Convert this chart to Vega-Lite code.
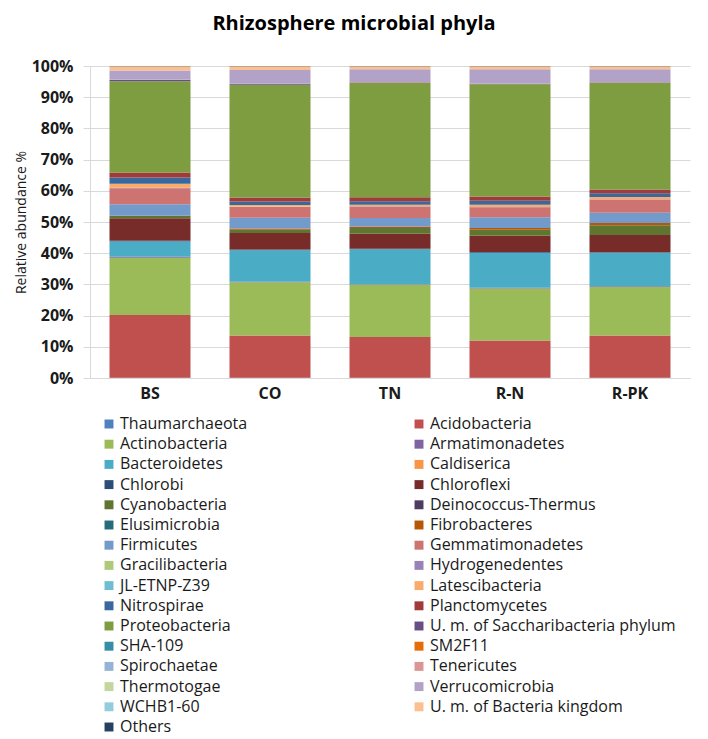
{
  "$schema": "https://vega.github.io/schema/vega-lite/v6.json",
  "width": 600,
  "height": 312,
  "autosize": {"type": "none"},
  "padding": {"left": 90, "top": 66, "right": 18, "bottom": 361},
  "title": {"text": "Rhizosphere microbial phyla", "fontSize": 20, "fontWeight": "bold", "font": "Open Sans", "color": "#000000", "anchor": "middle", "dx": -36, "offset": 24},
  "data": {"values": [
    {"site": "BS", "phylum": "Thaumarchaeota", "abundance": 0.1},
    {"site": "BS", "phylum": "Acidobacteria", "abundance": 20.0},
    {"site": "BS", "phylum": "Actinobacteria", "abundance": 18.3},
    {"site": "BS", "phylum": "Armatimonadetes", "abundance": 0.3},
    {"site": "BS", "phylum": "Bacteroidetes", "abundance": 4.8},
    {"site": "BS", "phylum": "Caldiserica", "abundance": 0.1},
    {"site": "BS", "phylum": "Chlorobi", "abundance": 0.4},
    {"site": "BS", "phylum": "Chloroflexi", "abundance": 7.0},
    {"site": "BS", "phylum": "Cyanobacteria", "abundance": 0.7},
    {"site": "BS", "phylum": "Fibrobacteres", "abundance": 0.1},
    {"site": "BS", "phylum": "Firmicutes", "abundance": 3.7},
    {"site": "BS", "phylum": "Gemmatimonadetes", "abundance": 5.1},
    {"site": "BS", "phylum": "Hydrogenedentes", "abundance": 0.1},
    {"site": "BS", "phylum": "Latescibacteria", "abundance": 1.3},
    {"site": "BS", "phylum": "Nitrospirae", "abundance": 2.0},
    {"site": "BS", "phylum": "Planctomycetes", "abundance": 1.6},
    {"site": "BS", "phylum": "Proteobacteria", "abundance": 29.1},
    {"site": "BS", "phylum": "U. m. of Saccharibacteria phylum", "abundance": 0.4},
    {"site": "BS", "phylum": "Tenericutes", "abundance": 0.1},
    {"site": "BS", "phylum": "Verrucomicrobia", "abundance": 3.0},
    {"site": "BS", "phylum": "U. m. of Bacteria kingdom", "abundance": 1.3},
    {"site": "BS", "phylum": "Others", "abundance": 0.1},

    {"site": "CO", "phylum": "Thaumarchaeota", "abundance": 0.05},
    {"site": "CO", "phylum": "Acidobacteria", "abundance": 13.5},
    {"site": "CO", "phylum": "Actinobacteria", "abundance": 17.0},
    {"site": "CO", "phylum": "Armatimonadetes", "abundance": 0.2},
    {"site": "CO", "phylum": "Bacteroidetes", "abundance": 10.0},
    {"site": "CO", "phylum": "Chlorobi", "abundance": 0.3},
    {"site": "CO", "phylum": "Chloroflexi", "abundance": 5.2},
    {"site": "CO", "phylum": "Cyanobacteria", "abundance": 1.0},
    {"site": "CO", "phylum": "Deinococcus-Thermus", "abundance": 0.1},
    {"site": "CO", "phylum": "Fibrobacteres", "abundance": 0.4},
    {"site": "CO", "phylum": "Firmicutes", "abundance": 3.4},
    {"site": "CO", "phylum": "Gemmatimonadetes", "abundance": 3.5},
    {"site": "CO", "phylum": "Gracilibacteria", "abundance": 0.1},
    {"site": "CO", "phylum": "Latescibacteria", "abundance": 0.5},
    {"site": "CO", "phylum": "Nitrospirae", "abundance": 1.1},
    {"site": "CO", "phylum": "Planctomycetes", "abundance": 1.3},
    {"site": "CO", "phylum": "Proteobacteria", "abundance": 36.0},
    {"site": "CO", "phylum": "U. m. of Saccharibacteria phylum", "abundance": 0.2},
    {"site": "CO", "phylum": "Tenericutes", "abundance": 0.1},
    {"site": "CO", "phylum": "Verrucomicrobia", "abundance": 4.4},
    {"site": "CO", "phylum": "U. m. of Bacteria kingdom", "abundance": 1.2},
    {"site": "CO", "phylum": "Others", "abundance": 0.05},

    {"site": "TN", "phylum": "Thaumarchaeota", "abundance": 0.05},
    {"site": "TN", "phylum": "Acidobacteria", "abundance": 13.1},
    {"site": "TN", "phylum": "Actinobacteria", "abundance": 16.7},
    {"site": "TN", "phylum": "Armatimonadetes", "abundance": 0.2},
    {"site": "TN", "phylum": "Bacteroidetes", "abundance": 11.2},
    {"site": "TN", "phylum": "Chlorobi", "abundance": 0.2},
    {"site": "TN", "phylum": "Chloroflexi", "abundance": 4.8},
    {"site": "TN", "phylum": "Cyanobacteria", "abundance": 1.8},
    {"site": "TN", "phylum": "Fibrobacteres", "abundance": 0.4},
    {"site": "TN", "phylum": "Firmicutes", "abundance": 2.8},
    {"site": "TN", "phylum": "Gemmatimonadetes", "abundance": 3.7},
    {"site": "TN", "phylum": "Hydrogenedentes", "abundance": 0.1},
    {"site": "TN", "phylum": "Latescibacteria", "abundance": 0.5},
    {"site": "TN", "phylum": "Nitrospirae", "abundance": 1.1},
    {"site": "TN", "phylum": "Planctomycetes", "abundance": 1.3},
    {"site": "TN", "phylum": "Proteobacteria", "abundance": 36.6},
    {"site": "TN", "phylum": "U. m. of Saccharibacteria phylum", "abundance": 0.2},
    {"site": "TN", "phylum": "Tenericutes", "abundance": 0.1},
    {"site": "TN", "phylum": "Verrucomicrobia", "abundance": 4.1},
    {"site": "TN", "phylum": "U. m. of Bacteria kingdom", "abundance": 1.0},
    {"site": "TN", "phylum": "Others", "abundance": 0.05},

    {"site": "R-N", "phylum": "Thaumarchaeota", "abundance": 0.05},
    {"site": "R-N", "phylum": "Acidobacteria", "abundance": 11.9},
    {"site": "R-N", "phylum": "Actinobacteria", "abundance": 16.6},
    {"site": "R-N", "phylum": "Armatimonadetes", "abundance": 0.2},
    {"site": "R-N", "phylum": "Bacteroidetes", "abundance": 11.2},
    {"site": "R-N", "phylum": "Chlorobi", "abundance": 0.2},
    {"site": "R-N", "phylum": "Chloroflexi", "abundance": 5.2},
    {"site": "R-N", "phylum": "Cyanobacteria", "abundance": 1.9},
    {"site": "R-N", "phylum": "Fibrobacteres", "abundance": 0.6},
    {"site": "R-N", "phylum": "Firmicutes", "abundance": 3.4},
    {"site": "R-N", "phylum": "Gemmatimonadetes", "abundance": 3.2},
    {"site": "R-N", "phylum": "Hydrogenedentes", "abundance": 0.1},
    {"site": "R-N", "phylum": "Latescibacteria", "abundance": 0.7},
    {"site": "R-N", "phylum": "Nitrospirae", "abundance": 1.3},
    {"site": "R-N", "phylum": "Planctomycetes", "abundance": 1.3},
    {"site": "R-N", "phylum": "Proteobacteria", "abundance": 35.8},
    {"site": "R-N", "phylum": "U. m. of Saccharibacteria phylum", "abundance": 0.2},
    {"site": "R-N", "phylum": "Tenericutes", "abundance": 0.1},
    {"site": "R-N", "phylum": "Verrucomicrobia", "abundance": 4.5},
    {"site": "R-N", "phylum": "U. m. of Bacteria kingdom", "abundance": 1.0},
    {"site": "R-N", "phylum": "Others", "abundance": 0.05},

    {"site": "R-PK", "phylum": "Thaumarchaeota", "abundance": 0.05},
    {"site": "R-PK", "phylum": "Acidobacteria", "abundance": 13.5},
    {"site": "R-PK", "phylum": "Actinobacteria", "abundance": 15.5},
    {"site": "R-PK", "phylum": "Armatimonadetes", "abundance": 0.2},
    {"site": "R-PK", "phylum": "Bacteroidetes", "abundance": 10.7},
    {"site": "R-PK", "phylum": "Chlorobi", "abundance": 0.2},
    {"site": "R-PK", "phylum": "Chloroflexi", "abundance": 5.5},
    {"site": "R-PK", "phylum": "Cyanobacteria", "abundance": 3.1},
    {"site": "R-PK", "phylum": "Fibrobacteres", "abundance": 0.7},
    {"site": "R-PK", "phylum": "Firmicutes", "abundance": 3.3},
    {"site": "R-PK", "phylum": "Gemmatimonadetes", "abundance": 4.2},
    {"site": "R-PK", "phylum": "Hydrogenedentes", "abundance": 0.1},
    {"site": "R-PK", "phylum": "Latescibacteria", "abundance": 0.7},
    {"site": "R-PK", "phylum": "Nitrospirae", "abundance": 1.2},
    {"site": "R-PK", "phylum": "Planctomycetes", "abundance": 1.2},
    {"site": "R-PK", "phylum": "Proteobacteria", "abundance": 34.0},
    {"site": "R-PK", "phylum": "U. m. of Saccharibacteria phylum", "abundance": 0.2},
    {"site": "R-PK", "phylum": "Tenericutes", "abundance": 0.1},
    {"site": "R-PK", "phylum": "Verrucomicrobia", "abundance": 4.1},
    {"site": "R-PK", "phylum": "U. m. of Bacteria kingdom", "abundance": 1.0},
    {"site": "R-PK", "phylum": "Others", "abundance": 0.05}
  ]},
  "transform": [
    {"window": [{"op": "row_number", "as": "stackRank"}], "groupby": ["site"]}
  ],
  "mark": {"type": "bar"},
  "encoding": {
    "x": {
      "field": "site", "type": "nominal",
      "sort": ["BS", "CO", "TN", "R-N", "R-PK"],
      "scale": {"paddingInner": 0.325, "paddingOuter": 0.1625},
      "axis": {"title": null, "labelAngle": 0, "labelFontWeight": "bold", "labelFontSize": 16, "labelColor": "#1a1a1a", "ticks": false, "labelPadding": 7, "domainColor": "#D9D9D9"}
    },
    "y": {
      "field": "abundance", "type": "quantitative", "stack": "normalize",
      "scale": {"domain": [0, 1], "nice": false},
      "axis": {
        "title": "Relative abundance %", "titleFontWeight": "normal", "titleFontSize": 14, "titleColor": "#1a1a1a", "titlePadding": 3,
        "values": [0, 0.1, 0.2, 0.3, 0.4, 0.5, 0.6, 0.7, 0.8, 0.9, 1],
        "format": ".0%", "labelFontWeight": "bold", "labelFontSize": 16, "labelColor": "#1a1a1a",
        "gridColor": "#D9D9D9", "domainColor": "#D9D9D9", "tickColor": "#D9D9D9", "tickSize": 7, "labelPadding": 10
      }
    },
    "order": {"field": "stackRank", "type": "quantitative", "sort": "ascending"},
    "color": {
      "field": "phylum", "type": "nominal",
      "scale": {
        "domain": ["Thaumarchaeota", "Acidobacteria", "Actinobacteria", "Armatimonadetes", "Bacteroidetes", "Caldiserica", "Chlorobi", "Chloroflexi", "Cyanobacteria", "Deinococcus-Thermus", "Elusimicrobia", "Fibrobacteres", "Firmicutes", "Gemmatimonadetes", "Gracilibacteria", "Hydrogenedentes", "JL-ETNP-Z39", "Latescibacteria", "Nitrospirae", "Planctomycetes", "Proteobacteria", "U. m. of Saccharibacteria phylum", "SHA-109", "SM2F11", "Spirochaetae", "Tenericutes", "Thermotogae", "Verrucomicrobia", "WCHB1-60", "U. m. of Bacteria kingdom", "Others"],
        "range": ["#4F81BD", "#C0504D", "#9BBB59", "#8064A2", "#4BACC6", "#F79646", "#2C4D75", "#772C2A", "#5F7530", "#4D3B62", "#276A7C", "#B65708", "#729ACA", "#CD7371", "#AFC97A", "#9983B5", "#6FBDD1", "#F9AB6B", "#3A679C", "#9F3B38", "#7E9C40", "#664F83", "#358EA6", "#E46C0A", "#95B3D7", "#D99694", "#C3D69B", "#B3A2C7", "#93CDDD", "#FAC090", "#254061"]
      },
      "legend": {
        "title": null, "orient": "none", "legendX": 11, "legendY": 350, "direction": "horizontal", "columns": 2, "columnPadding": 163, "rowPadding": 4.2,
        "symbolType": "square", "symbolSize": 80, "symbolStrokeWidth": 0, "symbolLimit": 0, "labelFontSize": 16, "labelColor": "#1a1a1a", "labelOffset": 3, "labelLimit": 400
      }
    }
  },
  "config": {
    "font": "Open Sans",
    "view": {"stroke": null},
    "axis": {"gridColor": "#D9D9D9"}
  }
}
